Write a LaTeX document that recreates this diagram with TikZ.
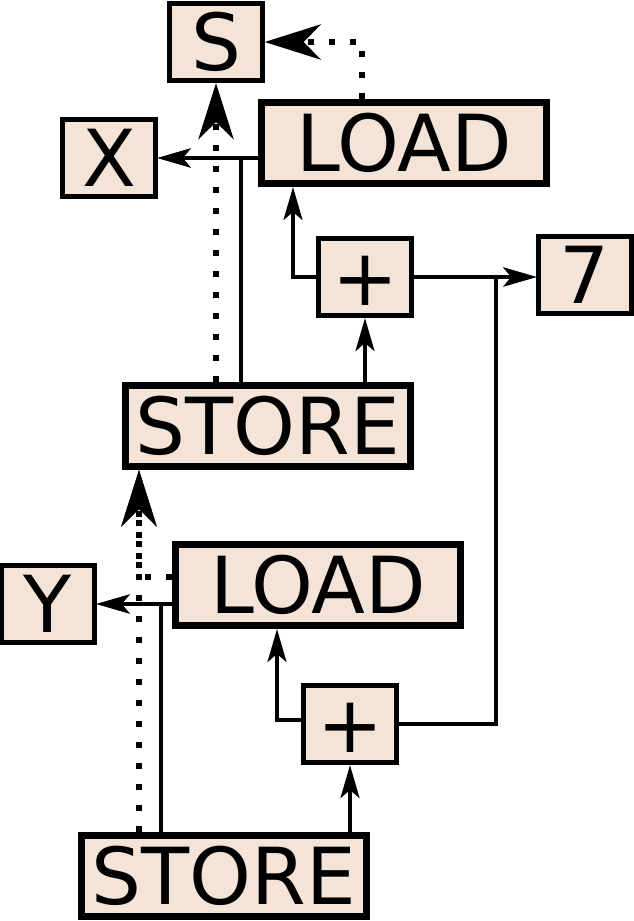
\documentclass[tikz,border=0pt]{standalone}
\usepackage{fontspec}
\setmainfont{DejaVu Sans}
\usetikzlibrary{arrows.meta}
\definecolor{boxfill}{RGB}{244,227,215}
\begin{document}
\begin{tikzpicture}[x=0.75pt,y=-0.75pt,
  base/.style={draw=black,fill=boxfill,inner sep=0pt,text height=43.2pt,text depth=0pt,
    font=\fontsize{59pt}{59pt}\selectfont},
  smallbox/.style={base,line width=3.5pt,minimum width=69.4pt,minimum height=58.1pt},
  bigbox/.style={base,line width=4.9pt,minimum width=213.4pt,minimum height=61.1pt},
  conn/.style={line width=2.5pt,line join=miter,-{Stealth[length=24.75pt,width=14.25pt,inset=6pt]}},
  plain/.style={line width=2.5pt,line join=miter},
  dotconn/.style={line width=4.9pt,dash pattern=on 4.5pt off 11.25pt,
    -{Stealth[length=42pt,width=26.25pt,inset=12.75pt]}}]
\useasboundingbox (0,0) rectangle (634,921);

\node[smallbox] (S) at (216,42) {S};
\node[smallbox] (X) at (109,158) {X};
\node[bigbox] (L1) at (404,143) {LOAD};
\node[smallbox] (p1) at (365,277) {+};
\node[smallbox] (seven) at (585,275) {7};
\node[bigbox] (S1) at (268,426) {STORE};
\node[bigbox] (L2) at (318,585) {LOAD};
\node[smallbox] (Y) at (48,604) {Y};
\node[smallbox] (p2) at (350,724) {+};
\node[bigbox] (S2) at (224,876) {STORE};
\coordinate (j) at (496,277);

% upper group
\draw[conn] (L1.west |- X.east) -- (X.east);
\draw[conn] ([xshift=-20.25pt]S1.north) |- (X.east);
\draw[dotconn] (S1.north -| S.south) -- (S.south);
\draw[dotconn] ([xshift=-31.5pt]L1.north) |- (S.east);
\draw[conn] (p1.west) -| ([xshift=-83.25pt]L1.south);
\draw[conn] (p1.east) -- (p1.east -| seven.west);
\draw[conn] (S1.north -| p1.south) -- (p1.south);

% lower group
\draw[conn] (p2.east) -| (j) -- (p1.east -| seven.west);
\draw[conn] ([yshift=3pt]p2.west) -| ([xshift=-30.75pt]L2.south);
\draw[conn] (S2.north -| p2.south) -- (p2.south);
\draw[conn] (L2.west |- Y.east) -- (Y.east);
\draw[conn] ([xshift=-47.25pt]S2.north) |- (Y.east);
\draw[dotconn] ([xshift=-63.75pt]S2.north) -- ([xshift=-96.75pt]S1.south);
\draw[dotconn] ([yshift=6pt]L2.west) -| ([xshift=-96.75pt]S1.south);
\end{tikzpicture}
\end{document}
